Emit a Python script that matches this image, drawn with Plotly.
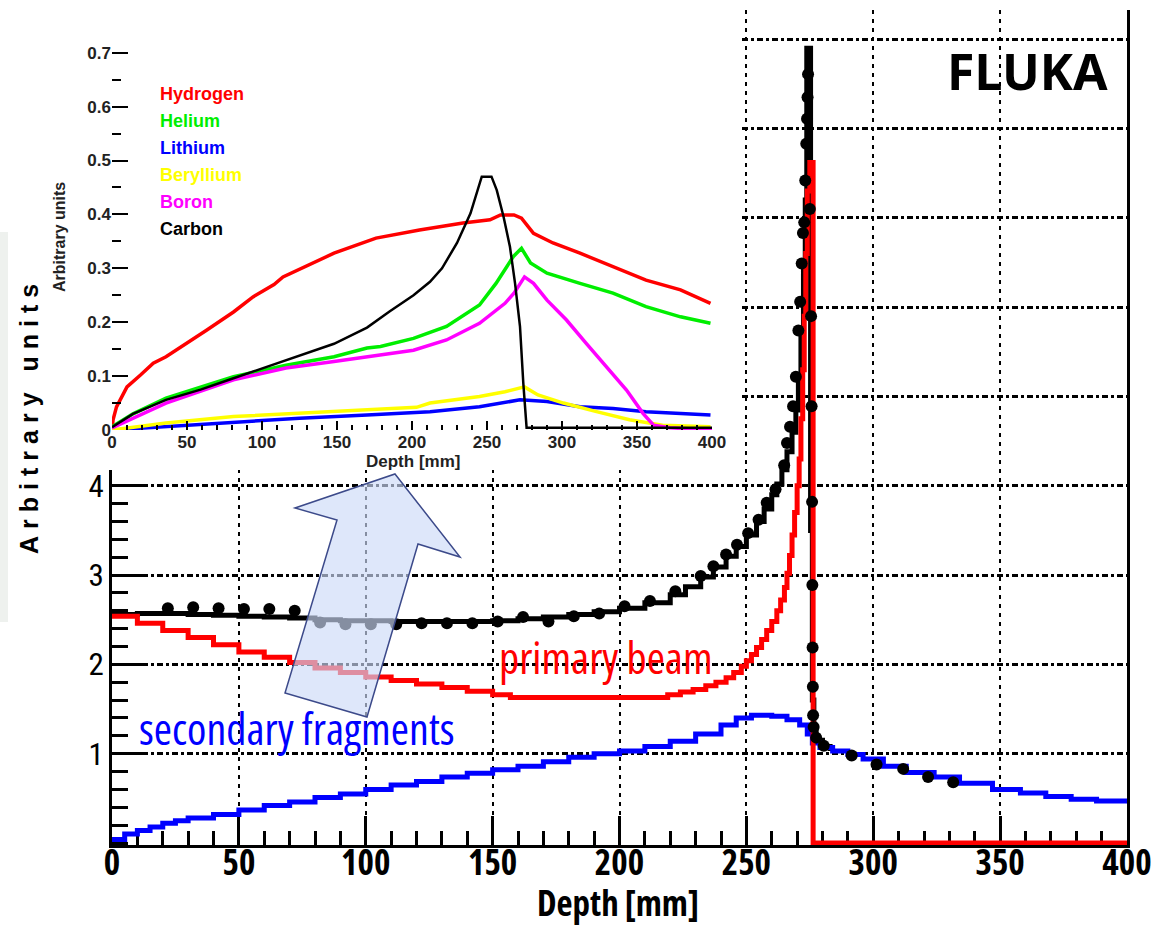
import plotly.graph_objects as go

W, H = 1151, 926

# ---------------- main plot: depth-dose along the beam ----------------
main_x_ticks = [0, 50, 100, 150, 200, 250, 300, 350, 400]
main_y_ticks = [1, 2, 3, 4, 5, 6, 7, 8, 9]
main_y_text = ["1", "2", "3", "4", "", "", "", "", ""]

# total dose (simulation), histogram steps
total_x = [0, 10, 20, 30, 40, 50, 60, 70, 80, 90, 100, 110, 120, 130, 140, 150, 160, 170,
           180, 190, 200, 210, 220, 226, 232, 237, 242, 246, 250, 254, 257, 260, 262, 264,
           266, 268, 269.5, 270.5, 271.5, 272.5, 273.2, 273.8, 275.3, 276.0, 276.6, 277.5,
           280, 283]
total_y = [2.56, 2.57, 2.57, 2.56, 2.55, 2.54, 2.53, 2.52, 2.50, 2.49, 2.49, 2.48, 2.48,
           2.48, 2.48, 2.49, 2.51, 2.53, 2.56, 2.59, 2.63, 2.69, 2.78, 2.87, 2.98, 3.09,
           3.21, 3.32, 3.45, 3.60, 3.74, 3.90, 4.02, 4.18, 4.38, 4.60, 4.85, 5.20, 5.70,
           6.40, 7.20, 8.90, 3.50, 1.60, 1.25, 1.15, 1.08, 1.03]

# primary beam
primary_x = [0, 10, 20, 30, 40, 50, 60, 70, 80, 90, 100, 110, 120, 130, 140, 150, 157, 187,
             219, 224, 229, 234, 238, 242, 245, 248, 250, 252, 254, 256, 258, 260, 262,
             263.5, 265, 266, 267, 268, 269, 270, 270.8, 271.5, 272.2, 272.8, 273.4, 274,
             275, 276.3, 400]
primary_y = [2.54, 2.46, 2.38, 2.30, 2.22, 2.14, 2.08, 2.02, 1.96, 1.91, 1.86, 1.82, 1.78,
             1.74, 1.70, 1.66, 1.63, 1.63, 1.66, 1.69, 1.72, 1.76, 1.80, 1.85, 1.91, 1.98,
             2.04, 2.11, 2.19, 2.28, 2.38, 2.48, 2.60, 2.72, 2.86, 3.02, 3.22, 3.45, 3.70,
             4.00, 4.30, 4.75, 5.30, 5.90, 6.60, 7.30, 7.62, 0.0, 0.0]

# secondary fragments
secondary_x = [0, 5, 10, 15, 20, 25, 30, 40, 50, 60, 70, 80, 90, 100, 110, 120, 130, 140,
               150, 160, 170, 180, 190, 200, 210, 220, 230, 240, 246, 252, 260, 266, 271,
               274, 276, 279, 284, 290, 296, 304, 313, 324, 334, 347, 358, 368, 378, 388,
               400]
secondary_y = [0.04, 0.10, 0.14, 0.18, 0.22, 0.25, 0.28, 0.32, 0.37, 0.42, 0.46, 0.51,
               0.55, 0.60, 0.65, 0.69, 0.74, 0.78, 0.82, 0.86, 0.91, 0.96, 1.00, 1.03, 1.08,
               1.14, 1.22, 1.32, 1.40, 1.43, 1.42, 1.38, 1.32, 1.22, 1.12, 1.07, 1.03, 0.99,
               0.94, 0.86, 0.79, 0.74, 0.67, 0.60, 0.56, 0.52, 0.49, 0.47, 0.46]

# measured points
meas_x = [22, 32, 42, 52, 62, 72, 82, 92, 102, 112, 122, 132, 142, 152, 162, 172, 182, 192,
          202, 212, 222, 232, 237, 242, 246.3, 250.7, 254.8, 258, 261.5, 264.9, 266, 267.2,
          268.4, 269.5, 270.5, 271.2, 271.8, 272.3, 272.8, 273.2, 273.6, 273.9, 274.1,
          274.3, 275.0, 275.5, 275.7, 275.9, 276.0, 276.1, 276.2, 276.3, 276.5, 277.5,
          280.5, 291.5, 301.3, 311.8, 321.6, 331.5]
meas_y = [2.63, 2.64, 2.63, 2.62, 2.62, 2.60, 2.47, 2.45, 2.45, 2.45, 2.46, 2.46, 2.46,
          2.48, 2.53, 2.48, 2.54, 2.57, 2.65, 2.71, 2.82, 2.99, 3.10, 3.23, 3.34, 3.47,
          3.62, 3.81, 3.96, 4.23, 4.48, 4.66, 4.89, 5.22, 5.74, 6.06, 6.49, 6.83, 6.95,
          7.42, 7.83, 8.11, 8.35, 8.61, 7.10, 5.90, 4.89, 3.82, 2.89, 2.19, 1.75, 1.43,
          1.30, 1.18, 1.09, 0.98, 0.88, 0.83, 0.74, 0.68]

# ---------------- inset: fragment yields by species ----------------
inset_x_ticks = [0, 50, 100, 150, 200, 250, 300, 350, 400]
inset_y_ticks = [0, 0.1, 0.2, 0.3, 0.4, 0.5, 0.6, 0.7]
inset_y_text = ["0", "0.1", "0.2", "0.3", "0.4", "0.5", "0.6", "0.7"]

hyd_x = [0, 0.7, 3, 10, 19, 27.5, 36, 50, 63, 81, 94, 108, 114, 148, 176, 205, 212, 234,
         252, 259, 268, 273, 281, 294, 312, 334, 356, 379, 399]
hyd_y = [0.0, 0.019, 0.043, 0.08, 0.102, 0.124, 0.136, 0.161, 0.185, 0.219, 0.247, 0.27,
         0.284, 0.328, 0.356, 0.371, 0.374, 0.384, 0.39, 0.399, 0.399, 0.393, 0.365, 0.347,
         0.328, 0.303, 0.278, 0.26, 0.235]
hel_x = [0, 14, 36, 59, 81, 116, 148, 170, 179, 201, 223, 245, 256, 267.6, 273, 279, 290,
         312, 334, 356, 379, 399]
hel_y = [0.006, 0.03, 0.059, 0.08, 0.099, 0.12, 0.136, 0.152, 0.155, 0.17, 0.192, 0.232,
         0.272, 0.322, 0.337, 0.31, 0.291, 0.272, 0.254, 0.229, 0.21, 0.198]
lit_x = [0, 36, 81, 125, 170, 203, 212, 245, 272, 290, 312, 334, 356, 399]
lit_y = [0.0, 0.006, 0.015, 0.022, 0.028, 0.032, 0.034, 0.043, 0.056, 0.053, 0.043, 0.04,
         0.034, 0.028]
ber_x = [0, 36, 81, 125, 170, 203, 212, 245, 262, 275, 284, 301, 323, 345, 367, 399]
ber_y = [0.0, 0.013, 0.025, 0.031, 0.037, 0.042, 0.05, 0.062, 0.071, 0.08, 0.065, 0.05,
         0.034, 0.019, 0.009, 0.006]
bor_x = [0, 36, 81, 116, 148, 179, 201, 223, 245, 262, 268, 275, 281, 290, 303, 316, 330,
         343, 354, 361, 372, 400]
bor_y = [0.004, 0.05, 0.093, 0.115, 0.127, 0.139, 0.148, 0.167, 0.198, 0.235, 0.254, 0.284,
         0.272, 0.241, 0.204, 0.161, 0.117, 0.074, 0.031, 0.009, 0.004, 0.0]
car_x = [0, 14, 36, 59, 81, 103, 125, 148, 170, 185, 201, 212, 220, 230, 239, 243, 246.5,
         253, 256.5, 261, 265.3, 268.7, 272, 274.2, 276.4, 400]
car_y = [0.005, 0.03, 0.056, 0.075, 0.096, 0.117, 0.137, 0.16, 0.19, 0.22, 0.25, 0.275,
         0.30, 0.347, 0.402, 0.44, 0.47, 0.47, 0.445, 0.396, 0.34, 0.272, 0.192, 0.087,
         0.004, 0.004]

species = [
    ("Hydrogen", hyd_x, hyd_y, "#ff0000", 3.5),
    ("Helium", hel_x, hel_y, "#00ee00", 3.5),
    ("Lithium", lit_x, lit_y, "#0000ff", 3.5),
    ("Beryllium", ber_x, ber_y, "#ffff00", 3.5),
    ("Boron", bor_x, bor_y, "#ff00ff", 3.5),
    ("Carbon", car_x, car_y, "#000000", 2.5),
]

ARIAL = "Liberation Sans, Arial, sans-serif"
OPEN = "Open Sans, Liberation Sans, sans-serif"


def narrow(s):
    # condensed width of the variable Open Sans face
    return f'<span style="font-stretch:75%">{s}</span>'


def fx(px):
    return px / W


def fy(py):
    return 1 - py / H


fig = go.Figure()

# main plot traces
fig.add_trace(go.Scatter(x=total_x, y=total_y, mode="lines", line=dict(color="black", width=5, shape="hv"),
                         xaxis="x", yaxis="y"))
fig.add_trace(go.Scatter(x=secondary_x, y=secondary_y, mode="lines",
                         line=dict(color="#0000ff", width=5, shape="hv"), xaxis="x", yaxis="y"))
fig.add_trace(go.Scatter(x=primary_x, y=primary_y, mode="lines",
                         line=dict(color="#ff0000", width=5, shape="hv"), xaxis="x", yaxis="y"))
fig.add_trace(go.Scatter(x=meas_x, y=meas_y, mode="markers",
                         marker=dict(color="black", size=12, symbol="circle"), xaxis="x", yaxis="y"))

# white canvas subplot behind the inset (holds no data)
fig.add_trace(go.Scatter(x=[], y=[], xaxis="x2", yaxis="y2", mode="lines"))

# inset traces
for name, xs, ys, col, lw in species:
    fig.add_trace(go.Scatter(x=xs, y=ys, mode="lines", name=name,
                             line=dict(color=col, width=lw), xaxis="x3", yaxis="y3"))

# geometry
Y0_PX, Y_SCALE = 843.0, 89.3          # main: value 0 position and px per unit
main_bottom, main_top = 845.0, 10.0
IN_Y0, IN_SCALE = 430.0, 539.0        # inset: value 0 position and px per unit
in_top_val = 0.74

fig.update_layout(
    width=W, height=H,
    margin=dict(l=0, r=0, t=0, b=0, autoexpand=False),
    paper_bgcolor="white", plot_bgcolor="white",
    showlegend=False,
    xaxis=dict(
        domain=[fx(112), fx(1127)], range=[0, 400], anchor="y", automargin=False,
        tickvals=main_x_ticks, ticktext=[narrow(str(v)) for v in main_x_ticks],
        ticks="inside", ticklen=29, tickwidth=3, tickcolor="black",
        showline=True, linewidth=3, linecolor="black", mirror=False,
        showgrid=True, gridcolor="black", gridwidth=2, griddash="4px,5px",
        zeroline=False, layer="below traces", ticklabelstandoff=-15,
        ticklabeloverflow="allow",
        minor=dict(dtick=10, tick0=0, ticks="inside", ticklen=14, tickwidth=3,
                   tickcolor="black", showgrid=False),
        tickfont=dict(family=OPEN, size=35, color="black", weight="bold"),
    ),
    yaxis=dict(
        domain=[fy(main_bottom), fy(main_top)], automargin=False,
        range=[(Y0_PX - main_bottom) / Y_SCALE, (Y0_PX - main_top) / Y_SCALE], anchor="x",
        tickvals=main_y_ticks, ticktext=main_y_text,
        ticks="inside", ticklen=33, tickwidth=3, tickcolor="black",
        showline=True, linewidth=3, linecolor="black", mirror=True,
        showgrid=True, gridcolor="black", gridwidth=2.5, griddash="6px,3px,3px,3px",
        zeroline=False,
        minor=dict(dtick=0.2, tick0=0, ticks="inside", ticklen=16, tickwidth=3,
                   tickcolor="black", showgrid=False),
        tickfont=dict(family="Roboto Condensed, Liberation Sans", size=31, color="black"),
        ticklabelstandoff=-1,
    ),
    xaxis2=dict(domain=[0, fx(741)], range=[0, 741], anchor="y2", visible=False,
                automargin=False),
    yaxis2=dict(domain=[fy(470), 1], range=[470, 0], anchor="x2", visible=False,
                automargin=False),
    xaxis3=dict(
        domain=[fx(112), fx(712)], range=[0, 400], anchor="y3", automargin=False,
        tickvals=inset_x_ticks, ticktext=[str(v) for v in inset_x_ticks],
        ticks="inside", ticklen=9, tickwidth=2, tickcolor="black",
        showline=False, showgrid=False, zeroline=False,
        minor=dict(dtick=10, tick0=0, ticks="inside", ticklen=5, tickwidth=1.5,
                   tickcolor="black", showgrid=False),
        tickfont=dict(family=ARIAL, size=17, color="#222222", weight="bold"),
    ),
    yaxis3=dict(
        domain=[fy(IN_Y0), fy(IN_Y0 - in_top_val * IN_SCALE)], range=[0, in_top_val],
        anchor="x3", automargin=False,
        tickvals=inset_y_ticks, ticktext=inset_y_text,
        ticks="inside", ticklen=16, tickwidth=2, tickcolor="black",
        showline=False, showgrid=False, zeroline=False,
        minor=dict(dtick=0.05, tick0=0, ticks="inside", ticklen=9, tickwidth=2,
                   tickcolor="black", showgrid=False),
        tickfont=dict(family=ARIAL, size=17, color="#222222", weight="bold"),
    ),
)

shapes = [
    # white backing of the inset
    dict(type="rect", xref="x2", yref="y2", x0=0, x1=741, y0=32, y1=470,
         fillcolor="white", line=dict(width=0), layer="below"),
    dict(type="rect", xref="x2", yref="y2", x0=400, x1=741, y0=0, y1=32,
         fillcolor="white", line=dict(width=0), layer="below"),
    # faint strip at the left edge
    dict(type="rect", xref="paper", yref="paper", x0=0, x1=fx(8), y0=fy(622), y1=fy(232),
         fillcolor="#eef1ee", line=dict(width=0), layer="above"),
]

arrow_pts = [(395, 474), (460, 557), (418, 544), (367, 717), (285, 693), (337, 520), (295, 508)]
arrow_path = "M " + " L ".join(f"{fx(a):.5f},{fy(b):.5f}" for a, b in arrow_pts) + " Z"
shapes.append(dict(type="path", xref="paper", yref="paper", path=arrow_path,
                   fillcolor="rgba(205,218,248,0.65)", line=dict(color="#3c4a8a", width=1.5),
                   layer="above"))
fig.update_layout(shapes=shapes)

annotations = [
    dict(text="FLUKA", x=fx(1027), y=fy(71), font=dict(family="Noto Sans", size=50, weight=700,
                                                       color="black")),
    dict(text=narrow("primary beam"), x=fx(497), y=fy(657), xanchor="left",
         font=dict(family=OPEN, size=44, color="#ff0000")),
    dict(text=narrow("secondary fragments"), x=fx(137), y=fy(728), xanchor="left",
         font=dict(family=OPEN, size=44, color="#0000ff")),
    dict(text=narrow("Depth [mm]"), x=fx(618), y=fy(902), borderpad=0,
         font=dict(family=OPEN, size=35, weight="bold", color="black")),
    dict(text='<span style="letter-spacing:7px">Arbitrary units</span>', x=fx(29), y=fy(416),
         textangle=-90, font=dict(family=ARIAL, size=25, weight="bold", color="black")),
    dict(text="Arbitrary units", x=fx(59), y=fy(237), textangle=-90,
         font=dict(family=ARIAL, size=16, weight="bold", color="#222222")),
    dict(text="Depth [mm]", x=fx(413), y=fy(462),
         font=dict(family=ARIAL, size=17, weight="bold", color="#222222")),
]
for i, (name, _, _, col, _) in enumerate(species):
    annotations.append(dict(text=name, x=fx(158), y=fy(94 + 27 * i), xanchor="left",
                            font=dict(family=ARIAL, size=18, weight="bold", color=col)))
for a in annotations:
    a.setdefault("xanchor", "center")
    a.update(xref="paper", yref="paper", showarrow=False, yanchor="middle")
fig.update_layout(annotations=annotations)

fig.write_html("out.html")
